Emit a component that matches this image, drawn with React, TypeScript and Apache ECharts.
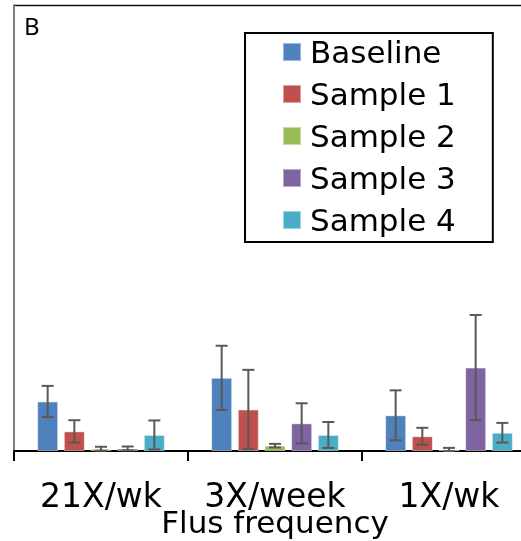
import React, { useEffect, useRef } from "react";
import * as echarts from "echarts";

const categories = ["21X/wk", "3X/week", "1X/wk"];
const seriesNames = ["Baseline", "Sample 1", "Sample 2", "Sample 3", "Sample 4"];
const colors = ["#4F81BD", "#C0504D", "#9BBB59", "#8064A2", "#4BACC6"];
const baseline = [1.11, 1.64, 0.8];
const sample1 = [0.44, 0.93, 0.33];
const sample2 = [0.05, 0.12, 0.035];
const sample3 = [0.056, 0.62, 1.87];
const sample4 = [0.36, 0.36, 0.41];
const baselineErr = [0.35, 0.72, 0.56];
const sample1Err = [0.25, 0.89, 0.19];
const sample2Err = [0.045, 0.04, 0.035];
const sample3Err = [0.045, 0.45, 1.18];
const sample4Err = [0.325, 0.29, 0.22];
const values = [baseline, sample1, sample2, sample3, sample4];
const errors = [baselineErr, sample1Err, sample2Err, sample3Err, sample4Err];

const FONT = "DejaVu Sans";
const BAR_W = 21;
const BAR_GAP = 0.27;

export default function App() {
  const ref = useRef<HTMLDivElement>(null);
  useEffect(() => {
    if (!ref.current) return;
    const chart = echarts.init(ref.current, null, { renderer: "svg" });
    const barSeries = seriesNames.map((name, i) => ({
      name,
      type: "bar",
      data: values[i],
      barWidth: BAR_W,
      barGap: BAR_GAP * 100 + "%",
      itemStyle: { color: colors[i], borderColor: "rgba(255,255,255,0.45)", borderWidth: 1 },
    }));
    const errSeries = seriesNames.map((name, i) => ({
      name: name + " err",
      type: "custom",
      z: 5,
      data: values[i].map((v, k) => [k, v, errors[i][k]]),
      renderItem: (params: any, api: any) => {
        const c = api.value(0);
        const v = api.value(1);
        const e = api.value(2);
        const off = (i - 2) * BAR_W * (1 + BAR_GAP);
        const top = api.coord([c, v + e]);
        const bot = api.coord([c, Math.max(v - e, 0)]);
        const x = top[0] + off;
        const cap = 6;
        const st = { stroke: "#595959", lineWidth: 2 };
        return {
          type: "group",
          children: [
            { type: "line", shape: { x1: x, y1: top[1], x2: x, y2: bot[1] }, style: st },
            { type: "line", shape: { x1: x - cap, y1: top[1], x2: x + cap, y2: top[1] }, style: st },
            { type: "line", shape: { x1: x - cap, y1: bot[1], x2: x + cap, y2: bot[1] }, style: st },
          ],
        };
      },
    }));
    chart.setOption({
      animation: false,
      title: {
        text: "B",
        left: 24,
        top: 12,
        padding: 0,
        textStyle: { fontFamily: "Noto Sans", fontSize: 24, fontWeight: "normal", color: "#000", lineHeight: 26 },
      },
      grid: { left: 14, top: 5, width: 522, height: 446, containLabel: false, outerBoundsMode: "none" },
      legend: {
        data: seriesNames,
        left: 245,
        top: 33,
        orient: "vertical",
        icon: "rect",
        itemWidth: 18,
        itemHeight: 18,
        itemGap: 10,
        borderColor: "#000",
        borderWidth: 2,
        padding: [3, 37, 6, 37],
        textStyle: { fontFamily: FONT, fontSize: 31, color: "#000", lineHeight: 32, padding: [0, 0, 0, 4] },
      },
      xAxis: {
        type: "category",
        data: categories,
        name: "Flus frequency",
        nameLocation: "middle",
        nameGap: 58,
        nameMoveOverlap: false,
        nameTextStyle: { fontFamily: FONT, fontSize: 31, color: "#000", lineHeight: 26 },
        axisLine: { lineStyle: { color: "#000", width: 2 } },
        axisTick: { show: true, length: 10, lineStyle: { color: "#000", width: 2 } },
        axisLabel: { fontFamily: FONT, fontSize: 33, color: "#000", margin: 31, interval: 0, hideOverlap: false, lineHeight: 26 },
      },
      yAxis: {
        type: "value",
        min: 0,
        max: 10,
        axisLine: { show: true, lineStyle: { color: "#808080", width: 2 } },
        axisTick: { show: false },
        axisLabel: { show: false },
        splitLine: { show: false },
      },
      graphic: [
        { type: "line", shape: { x1: 14, y1: 5.5, x2: 521, y2: 5.5 }, style: { stroke: "#111", lineWidth: 1.5 } },
      ],
      series: [...barSeries, ...errSeries],
    });
    return () => chart.dispose();
  }, []);
  return <div ref={ref} style={{ position: "fixed", left: 0, top: 0, width: 521, height: 541 }} />;
}
